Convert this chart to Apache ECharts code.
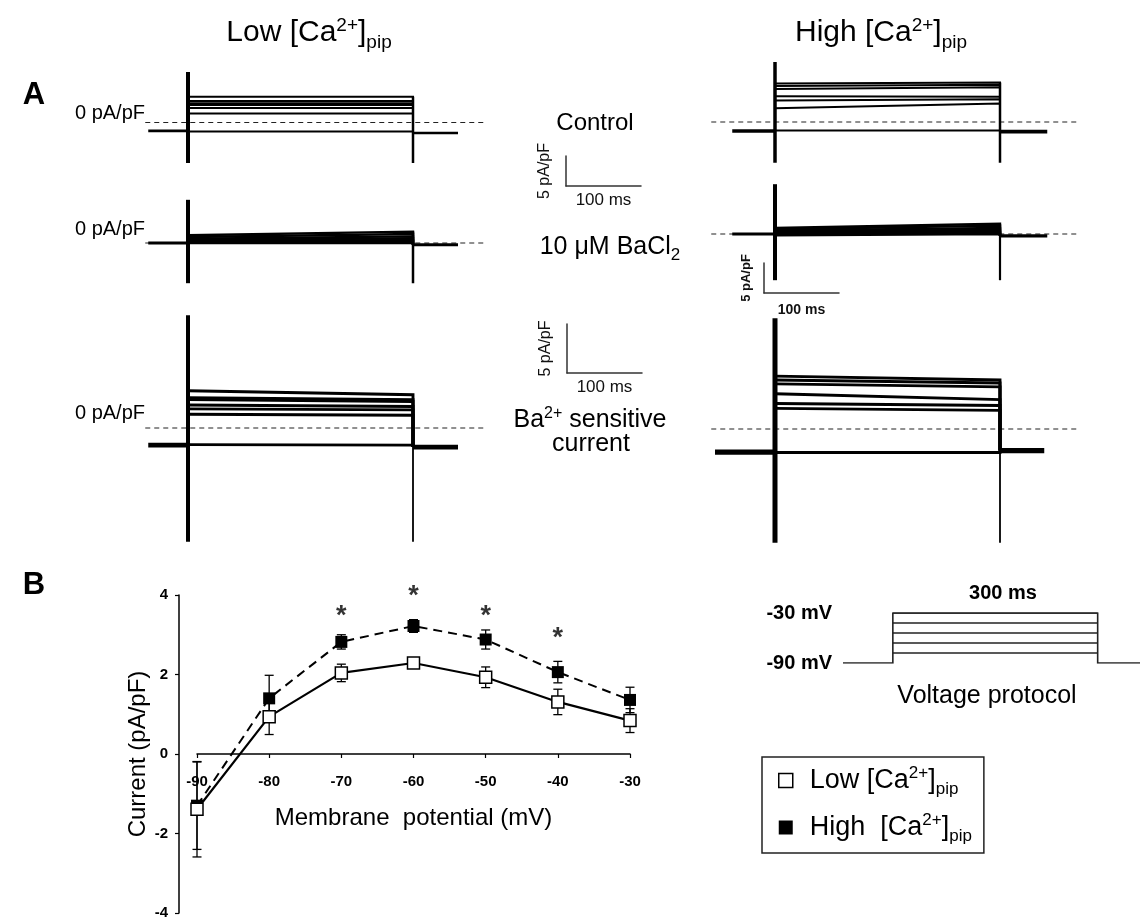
<!DOCTYPE html>
<html>
<head>
<meta charset="utf-8">
<title>Ba2+ sensitive current</title>
<script src="https://cdn.jsdelivr.net/npm/echarts@6/dist/echarts.min.js"></script>
<style>
  html, body { margin: 0; padding: 0; background: #fff; }
  #main { width: 1140px; height: 923px; }
</style>
</head>
<body>
<div id="main"></div>
<script>
// ---- panel A: current traces (pA/pF), pulse 0..300 ms ----
const pulseMs = [0, 300];
const lowRec = [-53, 360];
const lowDash = [-57, 396];
const highRec = [-57, 363];
const highSenRec = [-80, 359];
const highDash = [-85, 403];

// level of each trace at pulse start / pulse end
const lowCtlStart = [4.3, 3.6, 3.2, 2.9, 2.4, 1.5, -1.5];
const lowCtlEnd = [4.3, 3.6, 3.2, 2.9, 2.4, 1.5, -1.5];
const lowCtlHold = [-1.4, -1.75];          // before, after pulse
const lowCtlSpike = [8.4, -6.75, -6.75];   // on top, on bottom, off bottom

const lowBaStart = [1.3, 1.0, 0.7, 0.5, 0.3, 0.15, 0.0];
const lowBaEnd = [1.9, 1.5, 1.1, 0.8, 0.5, 0.3, 0.0];
const lowBaHold = [0, -0.3];
const lowBaSpike = [7.2, -6.7, -6.7];

const lowSenStart = [3.8, 3.1, 2.9, 2.35, 1.95, 1.4, -1.7];
const lowSenEnd = [3.4, 2.9, 2.7, 2.2, 1.85, 1.3, -1.75];
const lowSenHold = [-1.75, -1.95];
const lowSenSpike = [11.5, -11.6, -11.6];

const highCtlStart = [6.4, 6.0, 5.5, 4.3, 3.6, 2.3, -1.4];
const highCtlEnd = [6.6, 6.2, 5.8, 4.2, 3.8, 3.1, -1.4];
const highCtlHold = [-1.5, -1.6];
const highCtlSpike = [10, -6.8, -6.8];

const highBaStart = [1.0, 0.8, 0.6, 0.4, 0.2, 0.0, -0.2];
const highBaEnd = [1.7, 1.4, 1.0, 0.7, 0.4, 0.2, 0.0];
const highBaHold = [0, -0.3];
const highBaSpike = [8.3, -7.7, -7.7];

const highSenStart = [5.4, 5.0, 4.6, 3.6, 2.6, 2.1, -2.4];
const highSenEnd = [5.0, 4.7, 4.3, 3.0, 2.4, 1.9, -2.4];
const highSenHold = [-2.35, -2.2];
const highSenSpike = [11.3, -11.6, -11.6];

// scale bars
const scaleMs = 100;
const scalePA = 5;

// ---- panel B: I-V relation ----
const mV = [-90, -80, -70, -60, -50, -40, -30];
const lowMean = [-1.39, 0.94, 2.04, 2.29, 1.93, 1.31, 0.84];
const lowSem = [1.2, 0.45, 0.22, 0.12, 0.26, 0.32, 0.3];
const highMean = [-1.3, 1.4, 2.82, 3.22, 2.88, 2.06, 1.36];
const highSem = [1.1, 0.58, 0.18, 0.16, 0.24, 0.27, 0.32];
const sigMV = [-70, -60, -50, -40];
const sigY = [3.45, 3.95, 3.45, 2.9];

// voltage protocol
const protoHold = -90;
const protoSteps = [-30, -42, -54, -66, -78];
const protoRec = [-73, 362];

const FONT = '"Liberation Sans", Arial, sans-serif';
const LOW = 'Low [Ca2+]pip';
const HIGH = 'High [Ca2+]pip';
const PX_MS = 0.75;

const chart = echarts.init(document.getElementById('main'));

const grids = [], xAxes = [], yAxes = [], series = [];

function addGrid(g) {
  grids.push(Object.assign({ outerBoundsMode: 'none', containLabel: false }, g));
  return grids.length - 1;
}

function hiddenAxes(gi, xr, yr) {
  xAxes.push({ gridIndex: gi, type: 'value', min: xr[0], max: xr[1], show: false });
  yAxes.push({ gridIndex: gi, type: 'value', min: yr[0], max: yr[1], show: false });
}

function seg(gi, data, width, extra) {
  series.push(Object.assign({
    type: 'lines', coordinateSystem: 'cartesian2d', polyline: true,
    xAxisIndex: gi, yAxisIndex: gi, silent: true,
    lineStyle: { color: '#000', width: width, opacity: 1 },
    data: data.map(c => ({ coords: c }))
  }, extra || {}));
}

// x0: pixel of t = 0, y0: pixel of 0 pA/pF, pxY: pixels per pA/pF
const panels = [
  { x0: 188, y0: 122.5, pxY: 6, yr: [-8, 11], start: lowCtlStart, end: lowCtlEnd, hold: lowCtlHold, spike: lowCtlSpike, rec: lowRec, dash: lowDash, w: [2, 2.6, 4, 2.5] },
  { x0: 188, y0: 243, pxY: 6, yr: [-9, 9], start: lowBaStart, end: lowBaEnd, hold: lowBaHold, spike: lowBaSpike, rec: lowRec, dash: lowDash, w: [2.4, 3, 4, 2.5] },
  { x0: 188, y0: 428, pxY: 9.8, yr: [-13, 13], start: lowSenStart, end: lowSenEnd, hold: lowSenHold, spike: lowSenSpike, rec: lowRec, dash: lowDash, w: [2.9, 4.8, 4, 1.8] },
  { x0: 775, y0: 122, pxY: 6, yr: [-8, 11], start: highCtlStart, end: highCtlEnd, hold: highCtlHold, spike: highCtlSpike, rec: highRec, dash: highDash, w: [2, 3.6, 3.5, 2.5] },
  { x0: 775, y0: 234, pxY: 6, yr: [-9, 9], start: highBaStart, end: highBaEnd, hold: highBaHold, spike: highBaSpike, rec: highRec, dash: highDash, w: [2.4, 3.2, 4, 2.2] },
  { x0: 775, y0: 429, pxY: 9.8, yr: [-13, 13], start: highSenStart, end: highSenEnd, hold: highSenHold, spike: highSenSpike, rec: highSenRec, dash: highDash, w: [2.9, 5.2, 5, 1.8] }
];

const tRange = [-100, 420];
panels.forEach(function (p) {
  const gi = addGrid({
    left: p.x0 + tRange[0] * PX_MS,
    top: p.y0 - p.yr[1] * p.pxY,
    width: (tRange[1] - tRange[0]) * PX_MS,
    height: (p.yr[1] - p.yr[0]) * p.pxY
  });
  hiddenAxes(gi, tRange, p.yr);
  const on = pulseMs[0], off = pulseMs[1];
  // dashed 0 pA/pF line
  seg(gi, [[[p.dash[0], 0], [p.dash[1], 0]]], 1.2, { lineStyle: { color: '#222', width: 1.2, type: [5, 4], opacity: 1 }, z: 1 });
  // holding current before / after the step
  seg(gi, [[[p.rec[0], p.hold[0]], [on, p.hold[0]]], [[off, p.hold[1]], [p.rec[1], p.hold[1]]]], p.w[1], { z: 2 });
  // steps
  seg(gi, p.start.map((s, k) => [[on, s], [off, p.end[k]], [off, p.hold[1]]]), p.w[0], { z: 3 });
  // capacitive transients
  seg(gi, [[[on, p.spike[0]], [on, p.spike[1]]]], p.w[2], { z: 4 });
  seg(gi, [[[off, Math.max.apply(null, p.end)], [off, p.spike[2]]]], p.w[3], { z: 4 });
});

// scale bars (axes drawn as the bars)
const bars = [
  { left: 566, bottom: 186, pxY: 6, xFont: { fontSize: 17 }, yFont: { fontSize: 16 }, xGap: 6, yGap: 13 },
  { left: 567, bottom: 373, pxY: 9.8, xFont: { fontSize: 17 }, yFont: { fontSize: 16 }, xGap: 6, yGap: 13 },
  { left: 764, bottom: 293, pxY: 6, xFont: { fontSize: 14, fontWeight: 'bold' }, yFont: { fontSize: 13, fontWeight: 'bold' }, xGap: 10, yGap: 11 }
];
bars.forEach(function (b) {
  const gi = addGrid({ left: b.left, top: b.bottom - scalePA * b.pxY, width: scaleMs * PX_MS, height: scalePA * b.pxY });
  const axisLine = { show: true, onZero: false, lineStyle: { color: '#333', width: 1.5 } };
  xAxes.push({
    gridIndex: gi, type: 'value', min: 0, max: scaleMs, axisLine: axisLine,
    axisTick: { show: false }, axisLabel: { show: false }, splitLine: { show: false },
    name: scaleMs + ' ms', nameLocation: 'middle', nameGap: b.xGap,
    nameTextStyle: Object.assign({ color: '#111', fontFamily: FONT }, b.xFont)
  });
  yAxes.push({
    gridIndex: gi, type: 'value', min: 0, max: scalePA, axisLine: axisLine,
    axisTick: { show: false }, axisLabel: { show: false }, splitLine: { show: false },
    name: scalePA + ' pA/pF', nameLocation: 'middle', nameGap: b.yGap, nameRotate: 90,
    nameTextStyle: Object.assign({ color: '#111', fontFamily: FONT }, b.yFont)
  });
});

// I-V: data grid (y axis) and an x-axis grid whose bottom edge is 0 pA/pF
const IV_TOP = 595, IV_H = 318, IV_LEFT = 197, IV_W = 433;
const iv = addGrid({ left: IV_LEFT, top: IV_TOP, width: IV_W, height: IV_H });
xAxes.push({ gridIndex: iv, type: 'value', min: -90, max: -30, show: false });
yAxes.push({
  gridIndex: iv, type: 'value', min: -4, max: 4, interval: 2, offset: 18,
  axisLine: { show: true, lineStyle: { color: '#000', width: 1.5 } },
  axisTick: { show: true, length: 4, lineStyle: { color: '#000', width: 1.2 } },
  axisLabel: { color: '#000', fontSize: 15, fontWeight: 'bold', fontFamily: FONT, margin: 11 },
  splitLine: { show: false },
  name: 'Current (pA/pF)', nameLocation: 'middle', nameGap: 27, nameRotate: 90,
  nameTextStyle: { color: '#000', fontSize: 24, fontFamily: FONT }
});
const ivx = addGrid({ left: IV_LEFT, top: IV_TOP, width: IV_W, height: IV_H / 2 });
xAxes.push({
  gridIndex: ivx, type: 'value', min: -90, max: -30, interval: 10,
  axisLine: { onZero: false, lineStyle: { color: '#000', width: 1.5 } },
  axisTick: { length: 4, lineStyle: { color: '#000', width: 1.2 } },
  axisLabel: { color: '#000', fontSize: 15, fontWeight: 'bold', fontFamily: FONT, margin: 20 },
  splitLine: { show: false },
  name: 'Membrane  potential (mV)', nameLocation: 'middle', nameGap: 52,
  nameTextStyle: { color: '#000', fontSize: 24, fontFamily: FONT }
});
yAxes.push({ gridIndex: ivx, type: 'value', min: 0, max: 4, show: false });

function errBars(mean, sem) {
  return {
    type: 'custom', xAxisIndex: iv, yAxisIndex: iv, silent: true, z: 2,
    data: mV.map((v, i) => [v, mean[i] - sem[i], mean[i] + sem[i]]),
    renderItem: function (params, api) {
      const lo = api.coord([api.value(0), api.value(1)]);
      const hi = api.coord([api.value(0), api.value(2)]);
      const w = 4.5, st = { stroke: '#000', lineWidth: 1.3 };
      return {
        type: 'group', children: [
          { type: 'line', shape: { x1: lo[0], y1: lo[1], x2: hi[0], y2: hi[1] }, style: st },
          { type: 'line', shape: { x1: lo[0] - w, y1: lo[1], x2: lo[0] + w, y2: lo[1] }, style: st },
          { type: 'line', shape: { x1: hi[0] - w, y1: hi[1], x2: hi[0] + w, y2: hi[1] }, style: st }
        ]
      };
    }
  };
}
series.push(errBars(highMean, highSem));
series.push(errBars(lowMean, lowSem));
series.push({
  name: HIGH, type: 'line', xAxisIndex: iv, yAxisIndex: iv, z: 3,
  data: mV.map((v, i) => [v, highMean[i]]),
  symbol: 'rect', symbolSize: 12,
  lineStyle: { color: '#000', width: 2, type: [9, 6] },
  itemStyle: { color: '#000' }
});
series.push({
  name: LOW, type: 'line', xAxisIndex: iv, yAxisIndex: iv, z: 4,
  data: mV.map((v, i) => [v, lowMean[i]]),
  symbol: 'rect', symbolSize: 12,
  lineStyle: { color: '#000', width: 2.2 },
  itemStyle: { color: '#fff', borderColor: '#000', borderWidth: 1.5 }
});
series.push({
  type: 'scatter', xAxisIndex: iv, yAxisIndex: iv, silent: true, symbolSize: 0,
  data: sigMV.map((v, i) => [v, sigY[i]]),
  label: { show: true, position: 'inside', formatter: '*', color: '#000', fontSize: 27, fontWeight: 'bold', fontFamily: FONT }
});

// voltage protocol grid
const pTop = Math.max.apply(null, protoSteps);
const pg = addGrid({ left: 843, top: 613, width: 297, height: 50 });
xAxes.push({ gridIndex: pg, type: 'value', min: protoRec[0], max: protoRec[1], show: false });
yAxes.push({
  gridIndex: pg, type: 'value', min: protoHold, max: pTop,
  axisLine: { show: false }, splitLine: { show: false },
  axisTick: { show: false, customValues: [protoHold, pTop] },
  axisLabel: {
    customValues: [protoHold, pTop], margin: 11,
    formatter: v => v + ' mV', color: '#000', fontSize: 20, fontWeight: 'bold', fontFamily: FONT
  }
});
seg(pg, [[[protoRec[0], protoHold], [pulseMs[0], protoHold], [pulseMs[0], pTop], [pulseMs[1], pTop], [pulseMs[1], protoHold], [protoRec[1], protoHold]]], 1.6, { lineStyle: { color: '#222', width: 1.6, opacity: 1 } });
seg(pg, protoSteps.map(v => [[pulseMs[0], v], [pulseMs[1], v]]), 1.5, { lineStyle: { color: '#222', width: 1.5, opacity: 1 } });

// ---- text ----
function caRich(size, sub) {
  return {
    t: { fontSize: size, fontFamily: FONT, color: '#000', lineHeight: size + 8 },
    sup: { fontSize: sub, fontFamily: FONT, color: '#000', verticalAlign: 'top', padding: [2, 0, 0, 0] },
    sub: { fontSize: sub, fontFamily: FONT, color: '#000', verticalAlign: 'bottom' }
  };
}
function txt(x, y, text, font, align, rich) {
  const style = { text: text, x: 0, y: 0, fill: '#000', font: font, textAlign: align || 'center', textVerticalAlign: 'middle', align: align || 'center', verticalAlign: 'middle' };
  if (rich) style.rich = rich;
  return { type: 'text', x: x, y: y, silent: true, style: style };
}
const graphic = [
  txt(34, 95, 'A', 'bold 31px ' + FONT),
  txt(34, 585, 'B', 'bold 31px ' + FONT),
  txt(309, 33, '{t|Low [Ca}{sup|2+}{t|]}{sub|pip}', '30px ' + FONT, 'center', caRich(30, 19)),
  txt(881, 33, '{t|High [Ca}{sup|2+}{t|]}{sub|pip}', '30px ' + FONT, 'center', caRich(30, 19)),
  txt(145, 113, '0 pA/pF', '20px ' + FONT, 'right'),
  txt(145, 229, '0 pA/pF', '20px ' + FONT, 'right'),
  txt(145, 413, '0 pA/pF', '20px ' + FONT, 'right'),
  txt(595, 123, 'Control', '24px ' + FONT),
  txt(610, 247, '{t|10 μM BaCl}{sub|2}', '25px ' + FONT, 'center', caRich(25, 17)),
  txt(590, 420, '{t|Ba}{sup|2+}{t| sensitive}', '25px ' + FONT, 'center', caRich(25, 16)),
  txt(591, 444, 'current', '25px ' + FONT),
  txt(1003, 593, '300 ms', 'bold 20px ' + FONT),
  txt(987, 696, 'Voltage protocol', '25px ' + FONT)
];

const legendRich = caRich(27, 17);
legendRich.f = Object.assign({}, legendRich.t, { padding: [0, 0, 0, 12] });

const option = {
  animation: false,
  textStyle: { fontFamily: FONT },
  grid: grids,
  xAxis: xAxes,
  yAxis: yAxes,
  legend: {
    orient: 'vertical', left: 762, top: 757,
    padding: [8, 12, 8, 16], itemGap: 14, itemWidth: 14, itemHeight: 14,
    borderColor: '#222', borderWidth: 1.5, selectedMode: false,
    data: [
      { name: LOW, icon: 'rect', itemStyle: { color: '#fff', borderColor: '#000', borderWidth: 1.5 } },
      { name: HIGH, icon: 'rect', itemStyle: { color: '#000', borderWidth: 0 } }
    ],
    formatter: function (name) {
      return name === LOW ? '{f|Low [Ca}{sup|2+}{t|]}{sub|pip}' : '{f|High  [Ca}{sup|2+}{t|]}{sub|pip}';
    },
    textStyle: { rich: legendRich }
  },
  graphic: graphic,
  series: series
};

chart.setOption(option);
</script>
</body>
</html>
